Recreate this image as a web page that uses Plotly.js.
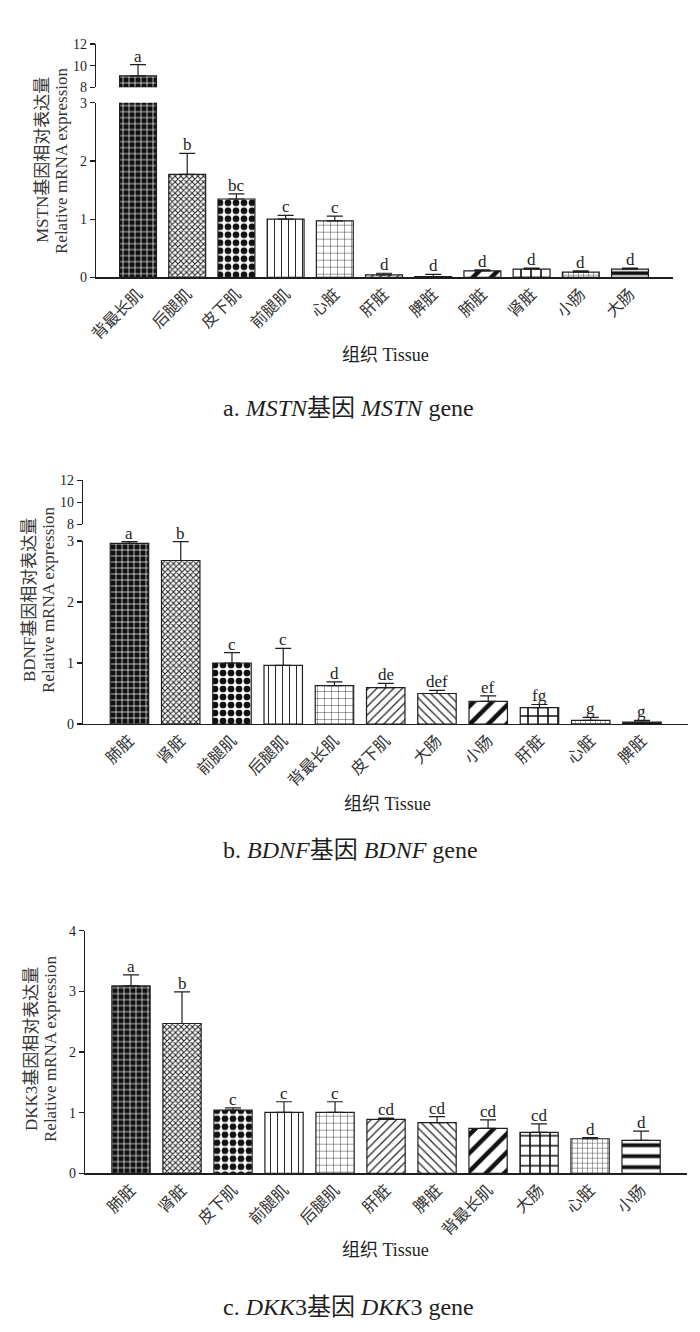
<!DOCTYPE html>
<html>
<head>
<meta charset="utf-8">
<script src="https://cdn.plot.ly/plotly-3.0.1.min.js"></script>
<style>
  html, body { margin: 0; padding: 0; background: #fff; }
  #fig { width: 700px; height: 1332px; }
</style>
</head>
<body>
<div id="fig"></div>
<script>
/* Relative mRNA expression of three genes across tissues.
 * Panels a/b use a broken y-axis (0-3 below, 8-12 above). */

// ---- data ----
const tissueA = ["背最长肌", "后腿肌", "皮下肌", "前腿肌", "心脏", "肝脏", "脾脏", "肺脏", "肾脏", "小肠", "大肠"];
const meanA = [9.05, 1.77, 1.345, 1.00, 0.97, 0.04, 0.01, 0.11, 0.14, 0.09, 0.14];
const errA = [1.05, 0.36, 0.09, 0.065, 0.08, 0.03, 0.04, 0.02, 0.02, 0.02, 0.02];
const sigA = ["a", "b", "bc", "c", "c", "d", "d", "d", "d", "d", "d"];

const tissueB = ["肺脏", "肾脏", "前腿肌", "后腿肌", "背最长肌", "皮下肌", "大肠", "小肠", "肝脏", "心脏", "脾脏"];
const meanB = [2.96, 2.68, 1.00, 0.96, 0.63, 0.595, 0.50, 0.37, 0.27, 0.06, 0.03];
const errB = [0.03, 0.31, 0.17, 0.28, 0.06, 0.07, 0.05, 0.09, 0.05, 0.05, 0.03];
const sigB = ["a", "b", "c", "c", "d", "de", "def", "ef", "fg", "g", "g"];

const tissueC = ["肺脏", "肾脏", "皮下肌", "前腿肌", "后腿肌", "肝脏", "脾脏", "背最长肌", "大肠", "心脏", "小肠"];
const meanC = [3.09, 2.47, 1.04, 1.005, 1.005, 0.89, 0.834, 0.74, 0.676, 0.57, 0.544];
const errC = [0.18, 0.52, 0.04, 0.175, 0.175, 0.02, 0.10, 0.14, 0.14, 0.02, 0.15];
const sigC = ["a", "b", "c", "c", "c", "cd", "cd", "cd", "cd", "d", "d"];

// ---- style ----
const W = 700, H = 1332;
const INK = "#1e1e1e";
const FONT = "Liberation Serif, Noto Sans CJK SC, serif";
const BREAK_LO = 3, BREAK_HI = 8;

// hatch fill by bar position (same sequence in every panel)
const HATCH = [
  { shape: "+", size: 6, solidity: 0.22, fg: "#ffffff", bg: "#111111" }, // brick
  { shape: "x", size: 4, solidity: 0.45, fg: "#222222", bg: "#ffffff" }, // fine check
  { shape: ".", size: 8, solidity: 0.55, fg: "#111111", bg: "#ffffff" }, // checker
  { shape: "|", size: 7, solidity: 0.14, fg: "#222222", bg: "#ffffff" }, // vertical
  { shape: "+", size: 7, solidity: 0.12, fg: "#222222", bg: "#ffffff" }, // grid
  { shape: "/", size: 6, solidity: 0.2, fg: "#222222", bg: "#ffffff" },
  { shape: "\\", size: 6, solidity: 0.2, fg: "#222222", bg: "#ffffff" },
  { shape: "/", size: 13, solidity: 0.35, fg: "#111111", bg: "#ffffff" },
  { shape: "+", size: 10, solidity: 0.3, fg: "#111111", bg: "#ffffff" }, // heavy grid
  { shape: "+", size: 5, solidity: 0.2, fg: "#555555", bg: "#ffffff" }, // small brick
  { shape: "-", size: 11, solidity: 0.35, fg: "#111111", bg: "#ffffff" }, // horizontal
];

const px = (x) => x / W;
const py = (y) => 1 - y / H;

function pattern(idx) {
  const h = idx.map((i) => HATCH[i]);
  return {
    shape: h.map((p) => p.shape),
    size: h.map((p) => p.size),
    solidity: h.map((p) => p.solidity),
    fgcolor: h.map((p) => p.fg),
    bgcolor: h.map((p) => p.bg),
  };
}

function barTrace(cats, means, errs, xa, ya) {
  const idx = cats.map((_, i) => i);
  return {
    type: "bar", x: cats, y: means, xaxis: xa, yaxis: ya, width: 0.75,
    marker: { color: "#ffffff", line: { color: INK, width: 1.2 }, pattern: pattern(idx) },
    error_y: { type: "data", symmetric: false, array: errs, arrayminus: errs.map(() => 0),
      color: INK, thickness: 1.2, width: 8 },
    hoverinfo: "skip", showlegend: false,
  };
}

// the part of each tall bar that shows above the axis break
function upperTrace(cats, means, errs, xa, ya) {
  const idx = cats.map((_, i) => i).filter((i) => means[i] > BREAK_HI);
  return {
    type: "bar", xaxis: xa, yaxis: ya, width: 0.75, base: BREAK_HI,
    x: idx.map((i) => cats[i]), y: idx.map((i) => means[i] - BREAK_HI),
    marker: { color: "#ffffff", line: { color: INK, width: 1.2 }, pattern: pattern(idx) },
    error_y: { type: "data", symmetric: false, array: idx.map((i) => errs[i]),
      arrayminus: idx.map(() => 0), color: INK, thickness: 1.2, width: 8 },
    hoverinfo: "skip", showlegend: false,
  };
}

const yBase = {
  showline: true, linecolor: INK, linewidth: 1.2, ticks: "outside", ticklen: 5,
  tickwidth: 1.2, tickcolor: INK, showgrid: false, zeroline: false,
  tickfont: { family: FONT, size: 14, color: INK }, fixedrange: true,
};
const xBase = {
  type: "category", showline: true, linecolor: INK, linewidth: 1.2, ticks: "",
  showgrid: false, zeroline: false, tickangle: -45,
  tickfont: { family: FONT, size: 16, color: "#333" }, fixedrange: true,
};

// ---- traces ----
const traces = [
  barTrace(tissueA, meanA, errA, "x", "y"),
  upperTrace(tissueA, meanA, errA, "x", "y2"),
  barTrace(tissueB, meanB, errB, "x2", "y3"),
  upperTrace(tissueB, meanB, errB, "x2", "y4"),
  barTrace(tissueC, meanC, errC, "x3", "y5"),
];

// ---- annotations ----
const ann = [];
function letters(cats, means, errs, sig, xa, yLow, yHigh) {
  cats.forEach((c, i) => {
    const top = means[i] + errs[i];
    ann.push({
      x: c, xref: xa, y: top, yref: (yHigh && top > BREAK_LO) ? yHigh : yLow,
      text: sig[i], showarrow: false, yanchor: "bottom", yshift: -3,
      font: { family: FONT, size: 17, color: INK },
    });
  });
}
letters(tissueA, meanA, errA, sigA, "x", "y", "y2");
letters(tissueB, meanB, errB, sigB, "x2", "y3", "y4");
letters(tissueC, meanC, errC, sigC, "x3", "y5");

function yTitle(gene, xl, yc) {
  [[gene + "基因相对表达量", xl], ["Relative mRNA expression", xl + 19]].forEach(([t, x]) => {
    ann.push({ text: t, xref: "paper", yref: "paper", x: px(x), y: py(yc), textangle: -90,
      showarrow: false, xanchor: "center", yanchor: "middle",
      font: { family: FONT, size: 17, color: "#333" } });
  });
}
yTitle("MSTN", 43, 160);
yTitle("BDNF", 29, 600);
yTitle("DKK3", 31, 1049);

function caption(text, x, y, size) {
  ann.push({ text, xref: "paper", yref: "paper", x: px(x), y: py(y), showarrow: false,
    xanchor: "center", yanchor: "middle", font: { family: FONT, size, color: INK } });
}
caption("组织 Tissue", 386, 355, 18);
caption("组织 Tissue", 387, 804, 18);
caption("组织 Tissue", 386, 1250, 18);
caption("a. <i>MSTN</i>基因 <i>MSTN</i> gene", 348, 408, 24);
caption("b. <i>BDNF</i>基因 <i>BDNF</i> gene", 350, 850, 24);
caption("c. <i>DKK</i>3基因 <i>DKK</i>3 gene", 348, 1307, 24);

// ---- layout ----
const layout = {
  width: W, height: H, margin: { l: 0, r: 0, t: 0, b: 0 },
  paper_bgcolor: "#fff", plot_bgcolor: "rgba(0,0,0,0)",
  font: { family: FONT, color: INK },
  showlegend: false,
  xaxis: Object.assign({}, xBase, { anchor: "y", domain: [px(96), px(673)], range: [-0.854, 10.874] }),
  xaxis2: Object.assign({}, xBase, { anchor: "y3", domain: [px(83), px(688)], range: [-0.907, 10.898] }),
  xaxis3: Object.assign({}, xBase, { anchor: "y5", domain: [px(85), px(687)], range: [-0.902, 10.9] }),
  yaxis: Object.assign({}, yBase, { anchor: "x", domain: [py(277.3), py(102.7)], range: [0, BREAK_LO], dtick: 1 }),
  yaxis2: Object.assign({}, yBase, { anchor: "x", domain: [py(87.3), py(44)], range: [BREAK_HI, 12], dtick: 2 }),
  yaxis3: Object.assign({}, yBase, { anchor: "x2", domain: [py(724), py(541)], range: [0, BREAK_LO], dtick: 1 }),
  yaxis4: Object.assign({}, yBase, { anchor: "x2", domain: [py(524.3), py(480.3)], range: [BREAK_HI, 12], dtick: 2 }),
  yaxis5: Object.assign({}, yBase, { anchor: "x3", domain: [py(1173.3), py(930.7)], range: [0, 4], dtick: 1 }),
  annotations: ann,
};

Plotly.newPlot("fig", traces, layout, { displayModeBar: false, staticPlot: true });
</script>
</body>
</html>
